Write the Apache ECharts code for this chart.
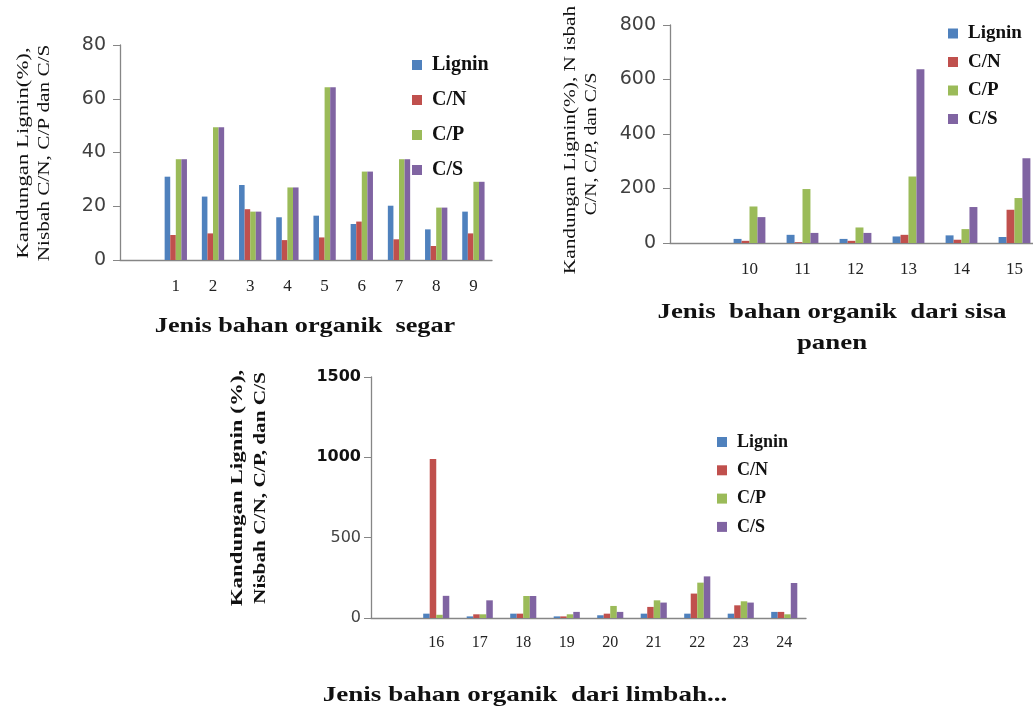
<!DOCTYPE html>
<html><head><meta charset="utf-8">
<script src="https://cdn.jsdelivr.net/npm/echarts@6/dist/echarts.min.js"></script>
<style>html,body{margin:0;padding:0;background:#fff}#c{width:1033px;height:708px}</style>
</head><body><div id="c"></div>
<script>
// ---- data ----
const seriesNames = ['Lignin', 'C/N', 'C/P', 'C/S'];

// Chart 1: Jenis bahan organik segar
const cats1 = ['', '1', '2', '3', '4', '5', '6', '7', '8', '9'];
const lignin1 = [null, 31, 23.6, 27.9, 15.9, 16.5, 13.4, 20.2, 11.4, 18];
const cn1     = [null, 9.3, 9.9, 18.9, 7.4, 8.4, 14.3, 7.7, 5.2, 9.9];
const cp1     = [null, 37.5, 49.4, 18, 27, 64.3, 32.9, 37.5, 19.5, 29.1];
const cs1     = [null, 37.5, 49.4, 18, 27, 64.3, 32.9, 37.5, 19.5, 29.1];
const yMax1 = 80, yStep1 = 20;

// Chart 2: Jenis bahan organik dari sisa panen
const cats2 = ['', '10', '11', '12', '13', '14', '15'];
const lignin2 = [null, 15, 30, 15, 24, 28, 22];
const cn2     = [null, 8, 3, 8, 30, 12, 122];
const cp2     = [null, 134, 198, 57, 244, 51, 165];
const cs2     = [null, 95, 37, 37, 638, 132, 311];
const yMax2 = 800, yStep2 = 200;

// Chart 3: Jenis bahan organik dari limbah
const cats3 = ['', '16', '17', '18', '19', '20', '21', '22', '23', '24'];
const lignin3 = [null, 27, 10, 27, 10, 17, 27, 27, 27, 38];
const cn3     = [null, 990, 23, 27, 10, 27, 69, 152, 79, 38];
const cp3     = [null, 20, 23, 137, 23, 75, 110, 220, 104, 23];
const cs3     = [null, 138, 110, 137, 38, 38, 96, 259, 96, 218];
const yMax3 = 1500, yStep3 = 500;

// ---- build ----
const colors = ['#4F81BD', '#C0504D', '#9BBB59', '#8064A2'];
const serif = '"Liberation Serif", "Times New Roman", serif';
const sans = '"DejaVu Sans", sans-serif';
const axisGray = '#868686';

const charts = [
  { cats: cats1, data: [lignin1, cn1, cp1, cs1], max: yMax1, step: yStep1,
    grid: { left: 120, width: 372, top: 45, height: 215 },
    yLabel: { margin: 14, fontFamily: sans, fontSize: 19, color: '#404040' },
    xLabel: { margin: 18, fontFamily: serif, fontSize: 17, color: '#222' } },
  { cats: cats2, data: [lignin2, cn2, cp2, cs2], max: yMax2, step: yStep2,
    grid: { left: 670, width: 371, top: 25, height: 218 },
    yLabel: { margin: 14, fontFamily: sans, fontSize: 19, color: '#404040' },
    xLabel: { margin: 18, fontFamily: serif, fontSize: 17, color: '#222' } },
  { cats: cats3, data: [lignin3, cn3, cp3, cs3], max: yMax3, step: yStep3,
    grid: { left: 371, width: 435, top: 377, height: 241 },
    yLabel: { margin: 10, formatter: v => (v >= 1000 ? '{b|' + v + '}' : '{n|' + v + '}'),
      rich: { b: { fontFamily: sans, fontSize: 16, fontWeight: 'bold', color: '#111' },
              n: { fontFamily: sans, fontSize: 16, color: '#444' } } },
    xLabel: { margin: 17, fontFamily: serif, fontSize: 16, color: '#222' } }
];

const grid = [], xAxis = [], yAxis = [], series = [];
charts.forEach((c, g) => {
  grid.push(Object.assign({ containLabel: false, outerBoundsMode: 'none' }, c.grid));
  xAxis.push({ type: 'category', gridIndex: g, data: c.cats,
    axisTick: { show: false },
    axisLine: { lineStyle: { color: axisGray, width: 1.3 } },
    axisLabel: Object.assign({ interval: 0 }, c.xLabel) });
  yAxis.push({ type: 'value', gridIndex: g, min: 0, max: c.max, interval: c.step,
    splitLine: { show: false },
    axisLine: { show: true, lineStyle: { color: axisGray, width: 1.3 } },
    axisTick: { show: true, length: 7, lineStyle: { color: axisGray } },
    axisLabel: c.yLabel });
  seriesNames.forEach((n, i) => {
    series.push({ type: 'bar', name: n, xAxisIndex: g, yAxisIndex: g, data: c.data[i],
      barGap: '0%', barCategoryGap: '40%',
      itemStyle: { color: colors[i] } });
  });
});

function legend(left, top, fontSize, gap) {
  return { orient: 'vertical', left: left, top: top, padding: 0, data: seriesNames,
    icon: 'rect', itemWidth: 10, itemHeight: 10, itemGap: gap, selectedMode: false,
    textStyle: { fontFamily: serif, fontWeight: 'bold', fontSize: fontSize, color: '#111',
      lineHeight: fontSize, padding: [0, 0, 0, 5] } };
}

function vtext(x, y, text, size, scale, weight) {
  return { type: 'text', x: x, y: y, rotation: Math.PI / 2, scaleX: scale, silent: true,
    style: { text: text, font: (weight || 'normal') + ' ' + size + 'px ' + serif, fill: '#111',
      textAlign: 'center', textVerticalAlign: 'middle' } };
}
function htext(x, y, text, size, scale) {
  return { type: 'text', x: x, y: y, scaleX: scale, silent: true,
    style: { text: text, font: 'bold ' + size + 'px ' + serif, fill: '#111',
      textAlign: 'center', textVerticalAlign: 'middle' } };
}

const option = {
  animation: false,
  backgroundColor: '#fff',
  grid: grid, xAxis: xAxis, yAxis: yAxis, series: series,
  legend: [legend(412, 55, 20, 15), legend(948, 24, 19, 9.5), legend(717, 433, 18, 10.3)],
  graphic: [
    vtext(24, 153, 'Kandungan Lignin(%),', 17, 1.34),
    vtext(45, 153, 'Nisbah C/N, C/P dan C/S', 17, 1.25),
    htext(305, 327, 'Jenis bahan organik  segar', 21, 1.25),

    vtext(571, 140, 'Kandungan Lignin(%), N isbah', 16, 1.33),
    vtext(592, 144, 'C/N, C/P, dan C/S', 16, 1.23),
    htext(832, 312, 'Jenis  bahan organik  dari sisa', 22, 1.22),
    htext(832, 343, 'panen', 22, 1.22),

    vtext(238, 488, 'Kandungan Lignin (%),', 17, 1.35, 'bold'),
    vtext(261, 488, 'Nisbah C/N, C/P, dan C/S', 17, 1.25, 'bold'),
    htext(525, 695, 'Jenis bahan organik  dari limbah...', 22, 1.23)
  ]
};

const chart = echarts.init(document.getElementById('c'), null, { renderer: 'canvas' });
chart.setOption(option);
</script>
</body></html>
